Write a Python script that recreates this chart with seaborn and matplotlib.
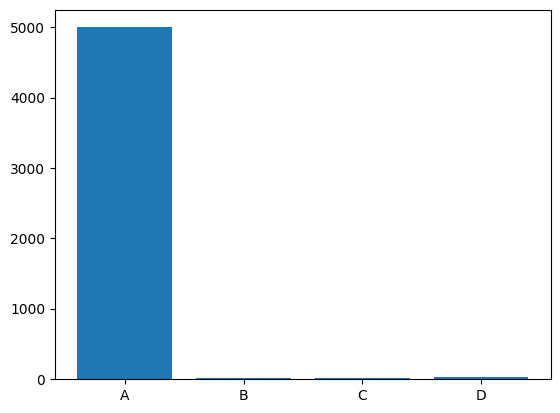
import matplotlib
matplotlib.use("Agg")
import matplotlib.pyplot as plt
import seaborn as sns
import pandas as pd

categories = ["A", "B", "C", "D"]
values = [5000, 12, 10, 28]

df = pd.DataFrame({"category": categories, "value": values})

fig = plt.figure(figsize=(5.6, 4.13), dpi=100)
ax = fig.add_axes([0.098, 0.082, 0.886, 0.894])
sns.barplot(data=df, x="category", y="value", color="#1f77b4", saturation=1,
            width=0.8, ax=ax, errorbar=None, linewidth=0)
ax.set_xlabel("")
ax.set_ylabel("")
ax.set_xlim(-0.59, 3.59)
ax.set_ylim(0, 5250)
fig.savefig("out.png", dpi=100)
